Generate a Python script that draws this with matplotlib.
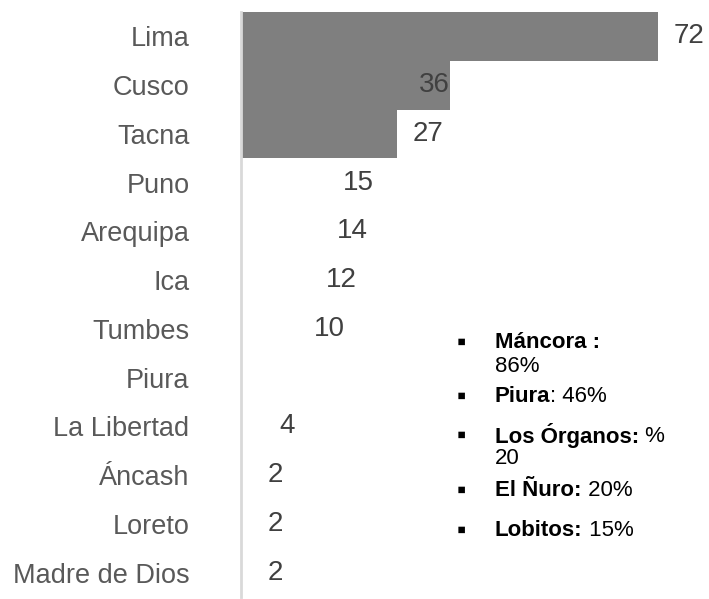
import matplotlib.pyplot as plt
import numpy as np

plt.rcParams['font.family'] = ['Liberation Sans', 'DejaVu Sans']

# Datos por departamento
departamentos = ['Lima', 'Cusco', 'Tacna', 'Puno', 'Arequipa', 'Ica', 'Tumbes',
                 'Piura', 'La Libertad', 'Áncash', 'Loreto', 'Madre de Dios']
valores = [72, 36, 27, 15, 14, 12, 10, None, 4, 2, 2, 2]

# Recuadro de Piura
zonas = ['Máncora :', 'Piura', 'Los Órganos:', 'El Ñuro:', 'Lobitos:']
porcentajes = ['86%', ': 46%', ' %', ' 20%', ' 15%']
segunda_linea = ['', '', '20', '', '']

gris_barra = '#7f7f7f'
gris_etiqueta = '#595959'
gris_valor = '#404040'

fig = plt.figure(figsize=(7.09, 5.99), dpi=100)
ax = fig.add_axes([241 / 709, 2 / 599, 1 - 241 / 709, 585 / 599])

y = np.arange(len(departamentos))
largos = [v if v is not None else 0 for v in valores]
colores = [gris_barra if i < 3 else 'white' for i in range(len(valores))]
ax.barh(y, largos, height=1.0, color=colores, edgecolor='none')

for i, v in enumerate(valores):
    if v is None:
        continue
    if i == 1:
        ax.annotate(str(v), (v, i), xytext=(0, 0), textcoords='offset points',
                    ha='right', va='center', fontsize=20, color=gris_valor)
    else:
        ax.annotate(str(v), (v, i), xytext=(11, 0), textcoords='offset points',
                    ha='left', va='center', fontsize=20, color=gris_valor)

ax.set_xlim(0, 80.8)
ax.set_ylim(len(departamentos) - 0.5, -0.5)
ax.set_yticks(y)
ax.set_yticklabels(departamentos, fontsize=19.5, color=gris_etiqueta)
ax.tick_params(axis='y', length=0, pad=37)
ax.set_xticks([])
for lado in ['top', 'right', 'bottom']:
    ax.spines[lado].set_visible(False)
ax.spines['left'].set_color('#d9d9d9')
ax.spines['left'].set_linewidth(2)

# Lista con viñetas
filas_y = [343, 397, 436, 491, 531]
salto = 23 / 599
for zona, pct, extra, fy in zip(zonas, porcentajes, segunda_linea, filas_y):
    yy = 1 - fy / 599
    fig.text(457 / 709, yy, '▪', fontsize=19, ha='left', va='center', color='black')
    if zona.startswith('Máncora'):
        fig.text(495 / 709, yy, zona, fontsize=16, fontweight='bold', va='center')
        fig.text(495 / 709, yy - salto, pct, fontsize=16, va='center')
        continue
    t = fig.text(495 / 709, yy, zona, fontsize=16, fontweight='bold', va='center')
    ax.annotate(pct, xy=(1, 0.5), xycoords=t, ha='left', va='center', fontsize=16,
                annotation_clip=False)
    if extra:
        fig.text(495 / 709, yy - salto, extra, fontsize=16, va='center')

fig.savefig('out.png', dpi=100)
